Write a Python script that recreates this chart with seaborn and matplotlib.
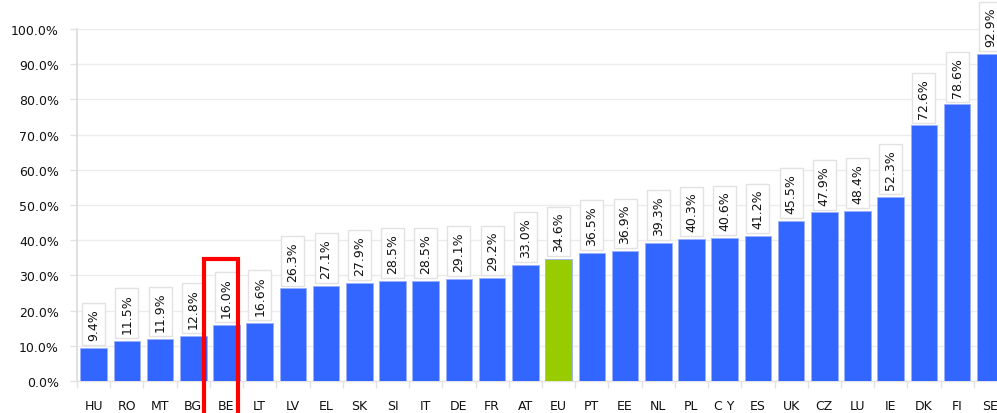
import matplotlib
matplotlib.use("Agg")
import matplotlib.pyplot as plt
from matplotlib.patches import Rectangle
from matplotlib.ticker import FixedLocator, FuncFormatter
import seaborn as sns
import pandas as pd

countries = ["HU", "RO", "MT", "BG", "BE", "LT", "LV", "EL", "SK", "SI", "IT", "DE",
             "FR", "AT", "EU", "PT", "EE", "NL", "PL", "CY", "ES", "UK", "CZ", "LU",
             "IE", "DK", "FI", "SE"]
values = [9.4, 11.5, 11.9, 12.8, 16.0, 16.6, 26.3, 27.1, 27.9, 28.5, 28.5, 29.1,
          29.2, 33.0, 34.6, 36.5, 36.9, 39.3, 40.3, 40.6, 41.2, 45.5, 47.9, 48.4,
          52.3, 72.6, 78.6, 92.9]
tick_labels = ["HU", "RO", "MT", "BG", "BE", "LT", "LV", "EL", "SK", "SI", "IT", "DE",
               "FR", "AT", "EU", "PT", "EE", "NL", "PL", "C Y", "ES", "UK", "CZ", "LU",
               "IE", "DK", "FI", "SE"]
highlight = "BE"
average = "EU"

BLUE = "#3366ff"
GREEN = "#99cc00"

sns.set_theme(style="white")
plt.rcParams["font.family"] = ["DejaVu Sans"]

df = pd.DataFrame({"country": countries, "value": values})
df["group"] = ["avg" if c == average else "country" for c in countries]

fig = plt.figure(figsize=(9.97, 4.14), dpi=100)
ax = fig.add_axes([77 / 997, 32 / 414, 930 / 997, 352 / 414])

sns.barplot(data=df, x="country", y="value", hue="group",
            palette={"country": BLUE, "avg": GREEN}, dodge=False, legend=False,
            width=0.8, saturation=1, edgecolor="#9ab0ff", linewidth=0.6,
            ax=ax, zorder=3)

ax.set_ylim(0, 100)
ax.set_xlim(-0.5, len(countries) - 0.5)
ax.set_xlabel("")
ax.set_ylabel("")

ax.set_yticks(range(0, 101, 10))
ax.yaxis.set_major_formatter(FuncFormatter(lambda v, p: f"{v:.1f}%"))
ax.tick_params(axis="y", which="major", length=5, width=1, color="#e3e3e3",
               pad=8, labelsize=9, labelcolor="#111111", left=True)
ax.grid(axis="y", color="#ececec", linewidth=1, zorder=0)
ax.set_axisbelow(True)

ax.set_xticks(range(len(countries)))
ax.set_xticklabels(tick_labels)
ax.tick_params(axis="x", which="major", length=0, pad=13, labelsize=9,
               labelcolor="#111111")
ax.xaxis.set_minor_locator(FixedLocator([i + 0.5 for i in range(-1, len(countries))]))
ax.tick_params(axis="x", which="minor", length=5, width=1, color="#e3e3e3", bottom=True)

for s in ["top", "right"]:
    ax.spines[s].set_visible(False)
ax.spines["left"].set_color("#dcdcdc")
ax.spines["left"].set_linewidth(1.2)
ax.spines["bottom"].set_color("#e3e3e3")
ax.spines["bottom"].set_linewidth(1)

for i, v in enumerate(values):
    ax.text(i, v + 2.2, f"{v:.1f}%", rotation=90, ha="center", va="bottom",
            fontsize=9, color="#111111", zorder=5, clip_on=False,
            bbox=dict(boxstyle="square,pad=0.4", facecolor="white",
                      edgecolor="#e2e2e2", linewidth=1))

hi = countries.index(highlight)
ax.add_patch(Rectangle((hi - 0.68, -12), 1.03, 46.7, fill=False,
                       edgecolor="#ff0000", linewidth=3, clip_on=False, zorder=6))

fig.savefig("out.png", dpi=100)
